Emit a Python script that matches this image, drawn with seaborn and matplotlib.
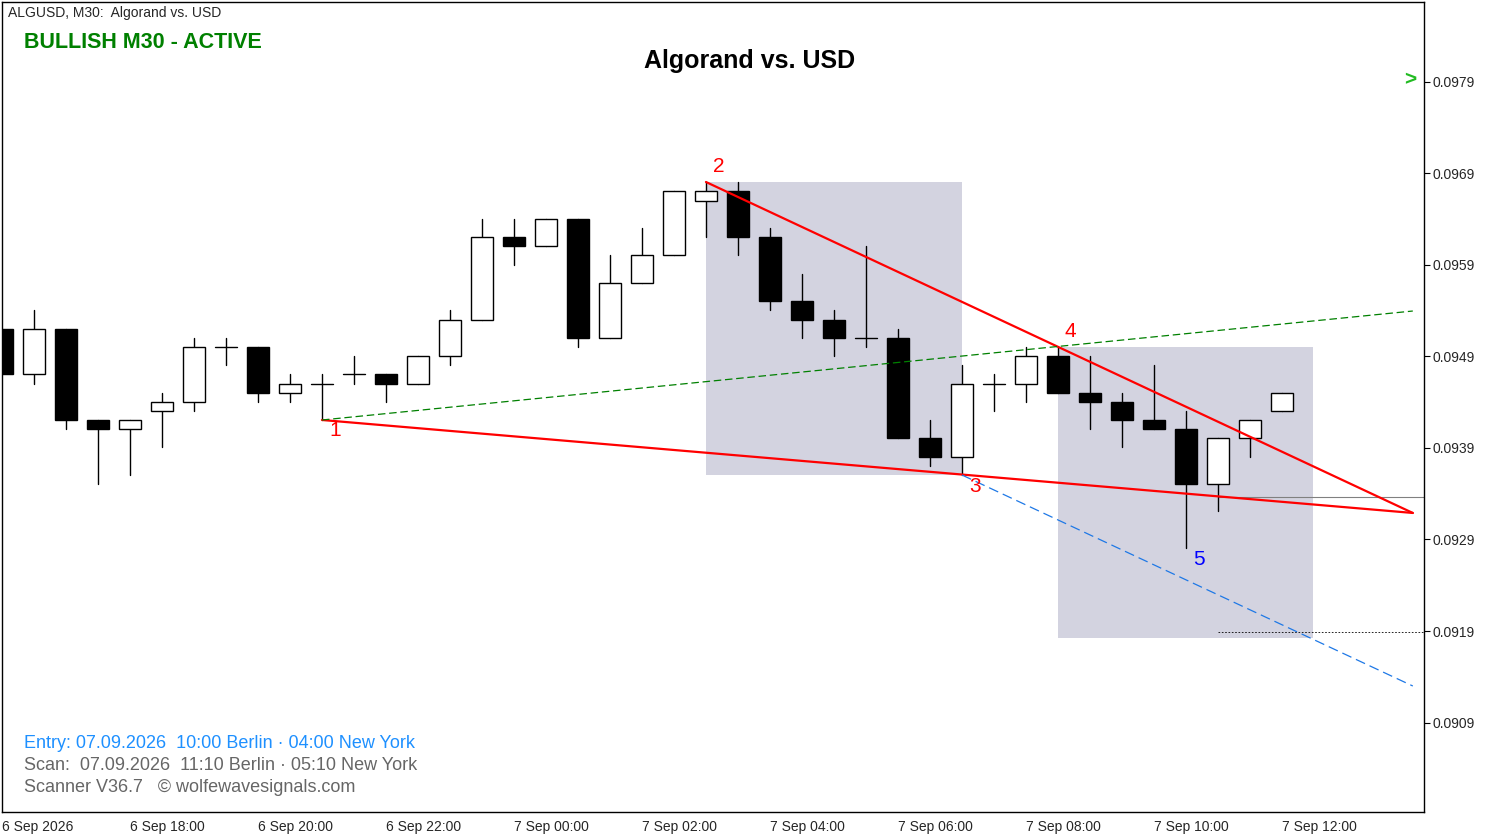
import matplotlib
matplotlib.use("Agg")
import matplotlib.pyplot as plt
import seaborn as sns
import pandas as pd
from matplotlib.patches import Rectangle

sns.set_style("white")
plt.rcParams['font.family'] = ['Liberation Sans', 'DejaVu Sans']

opens = [.095200,.094709,.095200,.094206,.094108,.094304,.094403,.095004,.095004,.094501,
         .094600,.094709,.094709,.094600,.094905,.095299,.096206,.096108,.096403,.095102,
         .095703,.096009,.096599,.096709,.096206,.095507,.095299,.095102,.095102,.094009,
         .093802,.094600,.094600,.094905,.094501,.094403,.094206,.094108,.093507,.094009,.094304]
highs = [.095200,.095408,.095200,.094206,.094206,.094501,.095102,.095102,.095004,.094709,
         .094709,.094905,.094709,.094905,.095408,.096403,.096403,.096403,.096403,.096009,
         .096304,.096709,.096807,.096807,.096304,.095802,.095408,.096108,.095200,.094206,
         .094807,.094709,.095004,.095004,.094905,.094501,.094807,.094304,.094009,.094206,.094501]
lows = [.094709,.094600,.094108,.093507,.093605,.093911,.094304,.094807,.094403,.094403,
        .094206,.094600,.094403,.094600,.094807,.095299,.095900,.096108,.095004,.095102,
        .095703,.096009,.096206,.096009,.095408,.095102,.094905,.095004,.094009,.093703,
        .093605,.094304,.094403,.094501,.094108,.093911,.094108,.092807,.093212,.093802,.094304]
closes = [.094709,.095200,.094206,.094108,.094206,.094403,.095004,.095004,.094501,.094600,
          .094600,.094709,.094600,.094905,.095299,.096206,.096108,.096403,.095102,.095703,
          .096009,.096709,.096709,.096206,.095507,.095299,.095102,.095102,.094009,.093802,
          .094600,.094600,.094905,.094501,.094403,.094206,.094108,.093507,.094009,.094206,.094501]

price_ticks = [0.0909, 0.0919, 0.0929, 0.0939, 0.0949, 0.0959, 0.0969, 0.0979]
time_labels = ["6 Sep 2026", "6 Sep 18:00", "6 Sep 20:00", "6 Sep 22:00", "7 Sep 00:00", "7 Sep 02:00",
               "7 Sep 04:00", "7 Sep 06:00", "7 Sep 08:00", "7 Sep 10:00", "7 Sep 12:00"]

wave_x = [10, 22, 30, 33, 37]
wave_y = [.094206, .096807, .093605, .095004, .092807]
line_end_x = 44.09
line13_end = .093190
line24_end = .093190
line14_end = .095397
line35_end = .091299
cur_price = .093364
target_price = .091889

fig = plt.figure(figsize=(14.94, 8.4), dpi=100)
ax = fig.add_axes([2/1494, 28/840, 1422/1494, 810/840])
ax.set_xlim(0, 44.44)
ax.set_ylim(0.089922, 0.098774)

ax.add_patch(Rectangle((22, .093605), 8, .096807-.093605, color='#d3d3e0', zorder=0, lw=0))
ax.add_patch(Rectangle((33, .091823), 7.97, .095004-.091823, color='#d3d3e0', zorder=0, lw=0))

w = 0.69
for i, (o, h, l, c) in enumerate(zip(opens, highs, lows, closes)):
    ax.plot([i, i], [l, h], color='black', lw=1, zorder=2)
    bot, top = min(o, c), max(o, c)
    fc = 'white' if c > o else 'black'
    if top - bot < 1e-6:
        ax.plot([i - w/2, i + w/2], [o, o], color='black', lw=1, zorder=3)
    else:
        ax.add_patch(Rectangle((i - w/2, bot), w, top - bot, facecolor=fc, edgecolor='black', lw=1, zorder=3))

lines = pd.DataFrame({
    'x': [wave_x[0], line_end_x, wave_x[1], line_end_x],
    'y': [wave_y[0], line13_end, wave_y[1], line24_end],
    'g': ['a', 'a', 'b', 'b']})
sns.lineplot(data=lines, x='x', y='y', units='g', estimator=None, color='red', lw=1.6, ax=ax, zorder=4)
ax.plot([wave_x[0], line_end_x], [wave_y[0], line14_end], color='green', lw=0.9, ls=(0, (6, 3)), zorder=4)
ax.plot([wave_x[2], line_end_x], [wave_y[2], line35_end], color='#1e78e6', lw=0.9, ls=(0, (8, 4)), zorder=4)
ax.plot([38, 44.44], [cur_price]*2, color='gray', lw=0.8, zorder=1)
ax.plot([38, 44.44], [target_price]*2, color='black', lw=0.6, ls=(0, (2, 2)), zorder=1)

offs = [(0.4, -0.00012), (0.4, 0.00017), (0.4, -0.00013), (0.4, 0.00017), (0.4, -0.00013)]
for k, (x, y) in enumerate(zip(wave_x, wave_y)):
    col = 'blue' if k == 4 else 'red'
    ax.text(x + offs[k][0], y + offs[k][1], str(k + 1), color=col, fontsize=15, ha='center', va='center', zorder=5)

ax.yaxis.tick_right()
ax.set_yticks(price_ticks)
ax.set_yticklabels([f"{p:.4f}" for p in price_ticks], fontsize=10)
ax.set_xticks(range(0, 41, 4))
ax.set_xticklabels(time_labels, fontsize=10, ha='left')
ax.tick_params(axis='both', direction='out', length=4, width=0.8, color='black', pad=2)
for s in ax.spines.values():
    s.set_color('black'); s.set_linewidth(1)
ax.set_xlabel(''); ax.set_ylabel('')

fig.text(8/1494, 1-13/840, "ALGUSD, M30:  Algorand vs. USD", fontsize=10, va='center')
fig.text(24/1494, 1-42/840, "BULLISH M30 - ACTIVE", fontsize=15.5, color='green', weight='bold', va='center')
fig.text(750/1494, 1-61/840, "Algorand vs. USD", fontsize=18, weight='bold', ha='center', va='center', color='black')
fig.text(1404/1494, 1-80/840, ">", fontsize=15, color='#22bb22', weight='bold', va='center')
fig.text(24/1494, 1-744/840, "Entry: 07.09.2026  10:00 Berlin · 04:00 New York", fontsize=13, color='#1e90ff', va='center')
fig.text(24/1494, 1-766/840, "Scan:  07.09.2026  11:10 Berlin · 05:10 New York", fontsize=13, color='#666666', va='center')
fig.text(24/1494, 1-788/840, "Scanner V36.7   © wolfewavesignals.com", fontsize=13, color='#666666', va='center')

fig.savefig("out.png", dpi=100)
